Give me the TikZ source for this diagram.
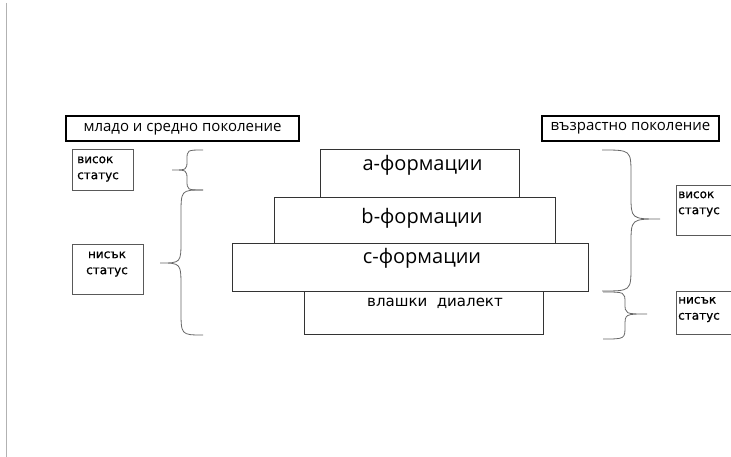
\documentclass[tikz,border=0pt]{standalone}
\usepackage{fontspec}
\setmainfont{DejaVu Sans}
\newfontfamily\layerfont{Open Sans}
\newfontfamily\headfont{Open Sans}
\newfontfamily\statusfont[FakeBold=0.8]{DejaVu Sans}
\usetikzlibrary{positioning}
\tikzset{
		head/.style={draw=black, line width=2pt, inner sep=0pt, minimum height=25pt, font=\headfont\fontsize{15}{15}\selectfont},
		statusbox/.style={draw=black!65, line width=0.8pt, inner sep=0pt, anchor=north west},
		status text/.style={inner sep=0pt, align=left, font=\statusfont\fontsize{12}{16}\selectfont},
		layer/.style={draw=black!80, line width=0.8pt, inner sep=0pt, anchor=north west},
		layer text/.style={inner sep=0pt, font=\layerfont\fontsize{20}{20}\selectfont},
		curly/.style={draw=black!60, line width=0.8pt},
		margin line/.style={draw=black!30, line width=1pt}
	}

\begin{document}
\begin{tikzpicture}[x=1pt,y=-1pt]
				\useasboundingbox (0,0) rectangle (731,457);
				\clip (0,0) rectangle (731,457);
				\draw[margin line] (6.5,3) -- (6.5,457);

				% headers
				\node[head, minimum width=233pt] (young) at (182.5,129) {младо и средно поколение};
				\node[head, minimum width=177pt] (old)   at (630.5,128.5) {възрастно поколение};

				% layers
				\node[layer, minimum width=199pt, minimum height=48pt] (fa)  at (320,149) {};
				\node[layer, minimum width=281pt, minimum height=46pt] (fb)  at (274,197) {};
				\node[layer, minimum width=356pt, minimum height=48pt] (fc)  at (232,243) {};
				\node[layer, minimum width=239pt, minimum height=43pt] (dia) at (304,291) {};
				\node[layer text] (fa text)  at (422.5,165) {a-формации};
				\node[layer text] (fb text)  at (422,218) {b-формации};
				\node[layer text] (fc text)  at (422,258) {c-формации};
				\node[layer text, font=\fontsize{15}{15}\selectfont] (dia text) at (435,303) {влашки\ \ диалект};

				% status boxes
				\node[statusbox, minimum width=61pt, minimum height=41pt] (lhigh) at (72,149) {};
				\node[statusbox, minimum width=71pt, minimum height=50pt] (llow)  at (72,244) {};
				\node[statusbox, minimum width=80pt, minimum height=50pt] (rhigh) at (676,185) {};
				\node[statusbox, minimum width=80pt, minimum height=43pt] (rlow)  at (676,291) {};
				\node[status text, anchor=west] (lhigh text) at (77,169) {висок\\статус};
				\node[status text, align=center] (llow text) at (107,264) {нисък\\статус};
				\node[status text, anchor=west] (rhigh text) at (678,204) {висок\\статус};
				\node[status text, anchor=west] (rlow text)  at (678,309.5) {нисък\\статус};

				% braces
				\draw[curly] (203,150) .. controls (187,150) .. (187,160) .. controls (187,170) .. (172,170)
					.. controls (187,170) .. (187,180) .. controls (187,190) .. (203,190);
				\draw[curly] (203,190) .. controls (181,190) .. (181,215) -- (181,240) .. controls (181,263) .. (160,263)
					.. controls (181,263) .. (181,288) -- (181,310) .. controls (181,335) .. (203,335);
				\draw[curly] (602,150) .. controls (631,150) .. (631,175) -- (631,195) .. controls (631,219) .. (660,219)
					.. controls (631,219) .. (631,244) -- (631,266) .. controls (631,291) .. (602,291);
				\draw[curly] (603,292) .. controls (625,292) .. (625,303) .. controls (625,314) .. (647,314)
					.. controls (625,314) .. (625,326) .. controls (625,339) .. (603,339);
\end{tikzpicture}
\end{document}
